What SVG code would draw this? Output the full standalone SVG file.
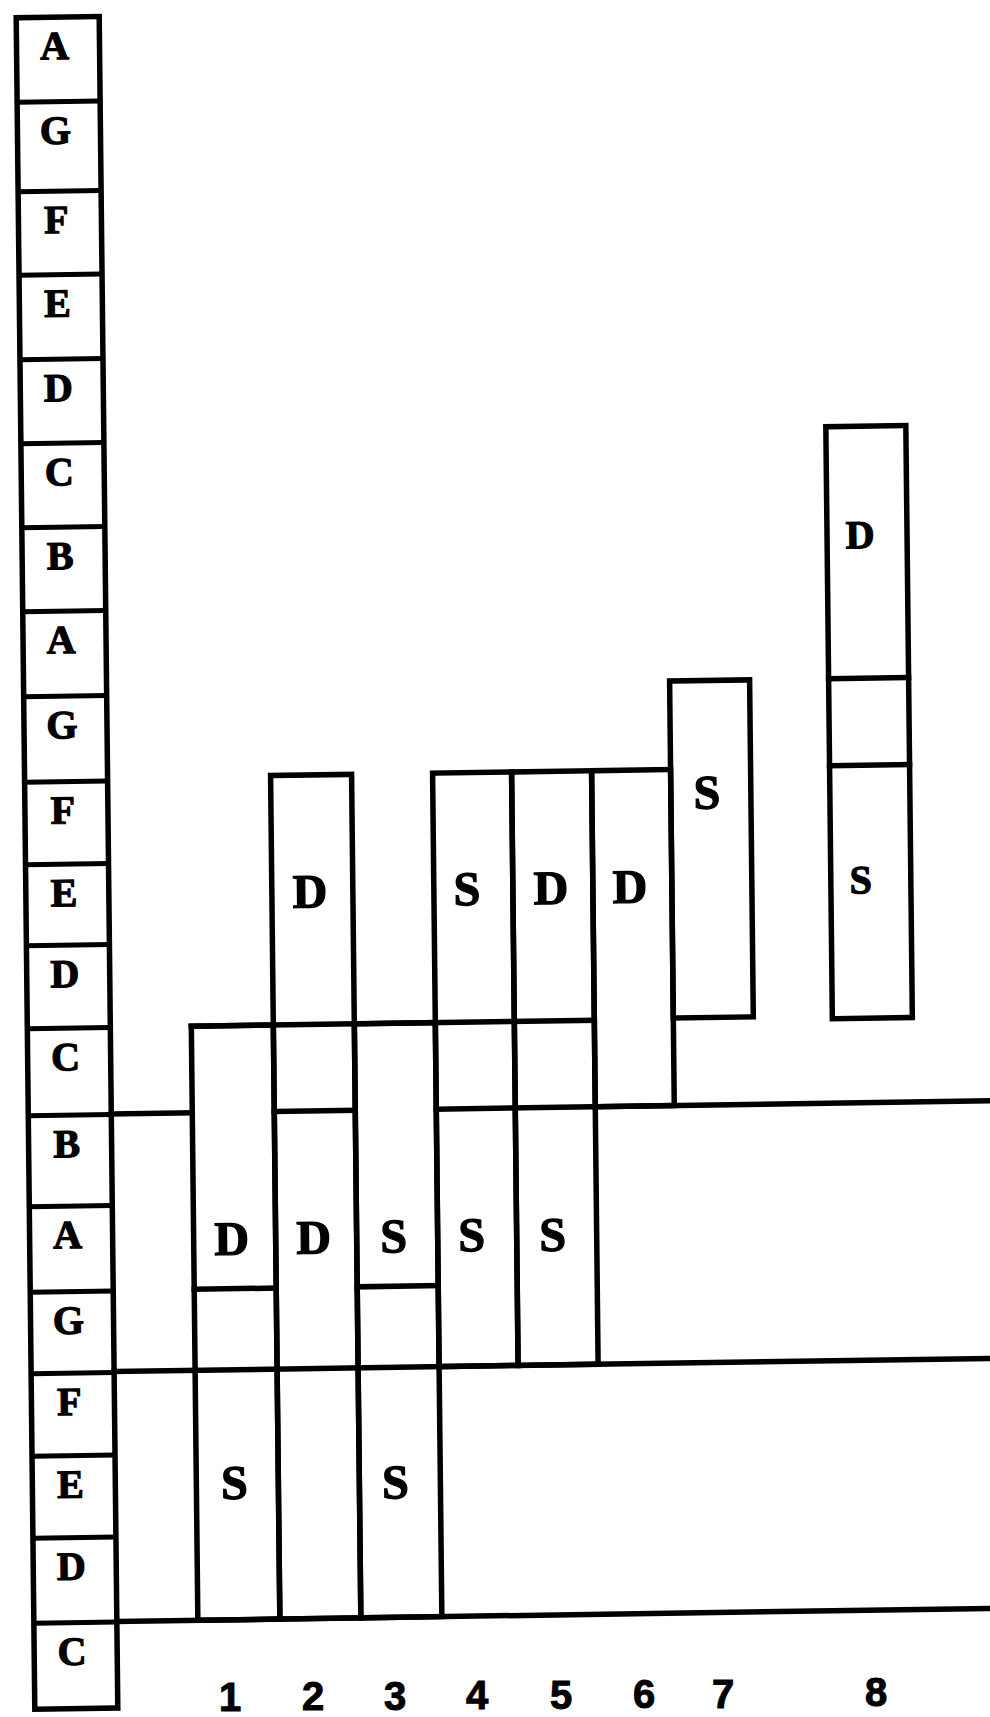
<svg xmlns="http://www.w3.org/2000/svg" width="990" height="1717" viewBox="0 0 990 1717">
<style>
.ln{stroke:#000;stroke-width:5.5;fill:none;stroke-linecap:square}
.thin{stroke:#000;stroke-width:5;fill:none}
.big{font-family:"Liberation Serif","Times New Roman",serif;font-weight:bold;font-size:48px;text-anchor:middle;fill:#000;stroke:#000;stroke-width:1.3}
.sm{font-family:"Liberation Serif","Times New Roman",serif;font-weight:bold;font-size:40px;text-anchor:middle;fill:#000;stroke:#000;stroke-width:1.2}
.num{font-family:"Liberation Sans",Arial,sans-serif;font-weight:bold;font-size:40px;text-anchor:middle;fill:#000;stroke:#000;stroke-width:1}
</style>
<rect width="990" height="1717" fill="#fff"/>
<g transform="matrix(1 -0.015 0.011 1 0 0)">
  <g id="scale">
    <rect class="ln" x="16" y="18" width="83" height="1691.5"/>
    <path class="thin" d="M16 102.5H99M16 192H99M16 275.5H99M16 360H99M16 444H99M16 528H99M16 612H99M16 697H99M16 782.5H99M16 865H99M16 946H99M16 1029H99M16 1116H99M16 1207H99M16 1292.5H99M16 1374H99M16 1456.5H99M16 1538.5H99M16 1623.5H99"/>
    <text class="sm" x="54" y="60">A</text>
    <text class="sm" x="54" y="144.5">G</text>
    <text class="sm" x="54" y="234">F</text>
    <text class="sm" x="54" y="317.5">E</text>
    <text class="sm" x="54" y="402">D</text>
    <text class="sm" x="54" y="486">C</text>
    <text class="sm" x="54" y="570">B</text>
    <text class="sm" x="54" y="654">A</text>
    <text class="sm" x="54" y="739">G</text>
    <text class="sm" x="54" y="824.5">F</text>
    <text class="sm" x="54" y="907">E</text>
    <text class="sm" x="54" y="988">D</text>
    <text class="sm" x="54" y="1071">C</text>
    <text class="sm" x="54" y="1158">B</text>
    <text class="sm" x="54" y="1249">A</text>
    <text class="sm" x="54" y="1334.5">G</text>
    <text class="sm" x="54" y="1416">F</text>
    <text class="sm" x="54" y="1498.5">E</text>
    <text class="sm" x="54" y="1580.5">D</text>
    <text class="sm" x="54" y="1665.5">C</text>
  </g>
  <g id="connectors">
    <path class="ln" d="M99 1115.5H180"/>
    <path class="ln" d="M424 1115.5H1010"/>
    <path class="ln" d="M99 1373H1010"/>
    <path class="ln" d="M99 1623H1010"/>
    <path class="ln" d="M180 1029H583"/>
  </g>
  <g id="col1">
    <rect class="ln" x="180" y="1029" width="82" height="594"/>
    <path class="ln" d="M180 1292H262"/>
    <text class="big" x="218" y="1258">D</text>
    <text class="big" x="218" y="1502">S</text>
  </g>
  <g id="col2">
    <rect class="ln" x="262" y="779.5" width="81" height="843.5"/>
    <path class="ln" d="M262 1115.5H343"/>
    <text class="big" x="300" y="912">D</text>
    <text class="big" x="300" y="1258">D</text>
  </g>
  <g id="col3">
    <rect class="ln" x="343" y="1029" width="81" height="594"/>
    <path class="ln" d="M343 1292H424"/>
    <text class="big" x="380" y="1258">S</text>
    <text class="big" x="379" y="1504">S</text>
  </g>
  <g id="col4">
    <rect class="ln" x="424" y="779.5" width="79" height="593.5"/>
    <text class="big" x="457" y="912">S</text>
    <text class="big" x="458" y="1258">S</text>
  </g>
  <g id="col5">
    <rect class="ln" x="503" y="779.5" width="80" height="593.5"/>
    <text class="big" x="541" y="912">D</text>
    <text class="big" x="539" y="1259">S</text>
  </g>
  <g id="col6">
    <rect class="ln" x="583" y="779.5" width="79" height="336"/>
    <text class="big" x="620" y="912">D</text>
  </g>
  <g id="col7">
    <rect class="ln" x="662" y="691" width="80" height="337"/>
    <text class="big" x="698" y="819">S</text>
  </g>
  <g id="col8">
    <rect class="ln" x="821" y="439" width="80" height="592"/>
    <path class="ln" d="M821 691H901M821 778H901"/>
    <text class="sm" x="854" y="561">D</text>
    <text class="sm" x="851" y="906">S</text>
  </g>
</g>
<g id="numbers">
  <text class="num" x="230" y="1711">1</text>
  <text class="num" x="313" y="1710">2</text>
  <text class="num" x="395" y="1710">3</text>
  <text class="num" x="477" y="1709">4</text>
  <text class="num" x="561" y="1709">5</text>
  <text class="num" x="644" y="1708">6</text>
  <text class="num" x="723" y="1708">7</text>
  <text class="num" x="876" y="1706">8</text>
</g>
</svg>
